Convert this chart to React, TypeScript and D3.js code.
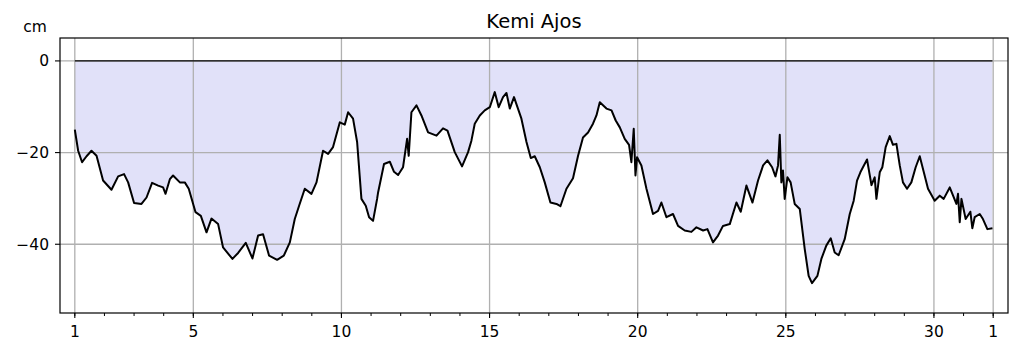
import React from "react";
import * as d3 from "d3";

const width = 1019;
const height = 352;
const margin = { top: 38, right: 11, bottom: 39, left: 60 };

const title = "Kemi Ajos";
const unit = "cm";

// hours since the 1st 00:00, sea level in cm
const hours = [
  0, 2.7, 5.9, 9.5, 13.5, 17.6, 22.9, 29.7, 35.1, 39.9, 43.2, 48, 54, 58.1, 62.6, 67.5, 71.5, 73.5, 77, 79.6,
  85.1, 89.1, 92.3, 97.8, 102.1, 106.7, 110.7, 116.1, 120.1, 127.7, 132.3, 138.5, 143.9, 148.5, 152.5, 157.4,
  163.9, 169.3, 174.2, 178.2, 181.7, 186.3, 191.7, 195.8, 201.1, 205.2, 209.2, 214.7, 218.7, 221.4, 225.4,
  228.7, 232.2, 235.7, 238.4, 241.6, 244.9, 245.7, 250.5, 255.2, 258.6, 261.9, 265.9, 269.2, 270.5, 272.7,
  276.8, 280.8, 286.2, 293, 298.3, 301.9, 307.8, 313.7, 318.6, 321.3, 324, 328.1, 332.1, 336.2, 340.2, 343.4,
  346.9, 349.7, 352.4, 355.8, 361.8, 365.9, 369.4, 372.6, 376.7, 380.7, 385.3, 390.2, 393.4, 398.3, 403.6,
  407.7, 411.7, 415.8, 419.8, 422.6, 425.3, 430.7, 434.8, 438.2, 441.5, 445.5, 449, 450.9, 452.8, 454.2, 455.5,
  459, 463.1, 468.4, 472.5, 475.2, 479.3, 484.6, 488.7, 494.1, 499.5, 503.6, 509, 512.5, 517, 521.1, 525.1,
  530.6, 536, 539.5, 544.1, 549, 553.5, 557.6, 561.1, 564.9, 567.6, 569.7, 571.1, 572.4, 573.7, 575.1, 577.3,
  579.9, 583.2, 587.3, 591.3, 594.5, 597.2, 601.6, 604.8, 608.8, 612.4, 615.6, 618.8, 623.7, 627.8, 631,
  633.7, 636.4, 638.5, 641.8, 645.4, 648, 649.4, 652.1, 654.2, 656.9, 660.2, 662.8, 665.6, 668.3, 670.9,
  674.2, 677.7, 681.2, 684.5, 687.7, 691.2, 696.6, 700.7, 703.9, 708.8, 711.5, 714.2, 715.5, 716.9, 718.3,
  721.7, 725.5, 727.1, 729, 733.1, 735.7, 739.3, 743.4,
];

const levels = [
  -15, -19.6, -22.1, -20.8, -19.6, -20.7, -26.1, -28.1, -25.2, -24.7, -26.5, -31, -31.2, -29.8, -26.6, -27.2,
  -27.6, -29, -25.8, -25, -26.5, -26.5, -27.9, -33, -33.8, -37.4, -34.4, -35.6, -40.7, -43.2, -41.9, -39.7,
  -43.1, -38.1, -37.8, -42.5, -43.4, -42.5, -39.6, -34.5, -31.6, -27.9, -29, -26.5, -19.6, -20.3, -18.8,
  -13.4, -13.9, -11.2, -12.6, -17.7, -30.1, -31.6, -34.1, -34.9, -30.1, -28.7, -22.5, -22, -24.2, -24.9,
  -23.2, -17, -20.7, -11.2, -9.7, -11.9, -15.6, -16.3, -14.7, -15.2, -19.9, -23, -19.9, -17.4, -13.7, -11.9,
  -10.8, -10.1, -6.8, -10.1, -7.9, -7, -10.4, -7.9, -12.6, -17.7, -21.2, -20.8, -23.2, -26.5, -30.9, -31.2,
  -31.7, -27.9, -25.6, -20.7, -16.7, -15.6, -13.7, -11.9, -9, -10.4, -10.8, -13, -14.5, -17, -18.3, -22.1,
  -14.8, -25, -21, -22.8, -27.9, -33.4, -32.7, -30.9, -34.1, -33.4, -36, -37, -37.3, -36.3, -37, -36.7, -39.6,
  -38.1, -36, -35.6, -30.9, -32.9, -27.2, -30.9, -26.1, -22.8, -21.7, -23.2, -25.2, -22.8, -16.1, -26.5,
  -23.9, -30.1, -25.4, -26.5, -31.2, -32.3, -41, -46.9, -48.5, -46.9, -43.2, -40.3, -38.7, -41.8, -42.4,
  -38.9, -33.4, -30.5, -26.1, -24.3, -23.2, -21.5, -27.1, -25.4, -30.1, -24.3, -23.2, -18.8, -16.4, -18.3,
  -18.1, -22.8, -26.5, -27.9, -26.5, -23.2, -20.8, -24.2, -27.9, -30.5, -29.4, -30.1, -27.6, -29.4, -31.2,
  -29, -35.2, -30.1, -34.5, -32.9, -36.5, -34.1, -33.4, -34.5, -36.7, -36.5,
];

const dayTicks = [1, 5, 10, 15, 20, 25, 30, 32];
const dayTickLabels = ["1", "5", "10", "15", "20", "25", "30", "1"];
const levelTicks = [0, -20, -40];

const font = "DejaVu Sans, sans-serif";

export default function App() {
  const x = d3.scaleLinear().domain([-12, 756]).range([margin.left, width - margin.right]);
  const y = d3.scaleLinear().domain([-55, 5]).range([height - margin.bottom, margin.top]);

  const points = hours.map((h, i) => [h, levels[i]] as [number, number]);
  const line = d3.line<[number, number]>().x((d) => x(d[0])).y((d) => y(d[1]));
  const area = d3
    .area<[number, number]>()
    .x((d) => x(d[0]))
    .y0(y(0))
    .y1((d) => y(d[1]));

  const dayX = (d: number) => x((d - 1) * 24);
  const minorDays = d3.range(1, 33);
  const x0 = margin.left;
  const x1 = width - margin.right;
  const y0 = margin.top;
  const y1 = height - margin.bottom;
  const endH = hours[hours.length - 1];

  return (
    <>
      <style>{`body{margin:0}`}</style>
      <svg width={width} height={height} style={{ display: "block", background: "#fff" }}>
        <path d={area(points) ?? ""} fill="#e1e1f9" />
        {/* grid */}
        {dayTicks.map((d) => (
          <line key={`gx${d}`} x1={dayX(d)} x2={dayX(d)} y1={y0} y2={y1} stroke="#b0b0b0" strokeWidth={1.3} />
        ))}
        {levelTicks.map((v) => (
          <line key={`gy${v}`} x1={x0} x2={x1} y1={y(v)} y2={y(v)} stroke="#b0b0b0" strokeWidth={1.3} />
        ))}
        <line x1={x(0)} x2={x(endH)} y1={y(0)} y2={y(0)} stroke="#000" strokeWidth={1.4} />
        <path d={line(points) ?? ""} fill="none" stroke="#000" strokeWidth={2} strokeLinejoin="round" />
        <rect x={x0} y={y0} width={x1 - x0} height={y1 - y0} fill="none" stroke="#000" strokeWidth={1.2} />
        {/* x ticks */}
        {minorDays.map((d) => (
          <line key={`mx${d}`} x1={dayX(d)} x2={dayX(d)} y1={y1} y2={y1 + 3} stroke="#000" strokeWidth={1} />
        ))}
        {dayTicks.map((d, i) => (
          <g key={`tx${d}`}>
            <line x1={dayX(d)} x2={dayX(d)} y1={y1} y2={y1 + 5} stroke="#000" strokeWidth={1.1} />
            <text x={dayX(d)} y={y1 + 24} textAnchor="middle" fontFamily={font} fontSize={15.5}>
              {dayTickLabels[i]}
            </text>
          </g>
        ))}
        {/* y ticks */}
        {levelTicks.map((v) => (
          <g key={`ty${v}`}>
            <line x1={x0 - 5} x2={x0} y1={y(v)} y2={y(v)} stroke="#000" strokeWidth={1.1} />
            <text x={x0 - 11} y={y(v)} dy="0.36em" textAnchor="end" fontFamily={font} fontSize={15.5}>
              {v < 0 ? `\u2212${-v}` : `${v}`}
            </text>
          </g>
        ))}
        <text x={35} y={32} textAnchor="middle" fontFamily={font} fontSize={15.5}>
          {unit}
        </text>
        <text x={(x0 + x1) / 2} y={28} textAnchor="middle" fontFamily={font} fontSize={19.5}>
          {title}
        </text>
      </svg>
    </>
  );
}
